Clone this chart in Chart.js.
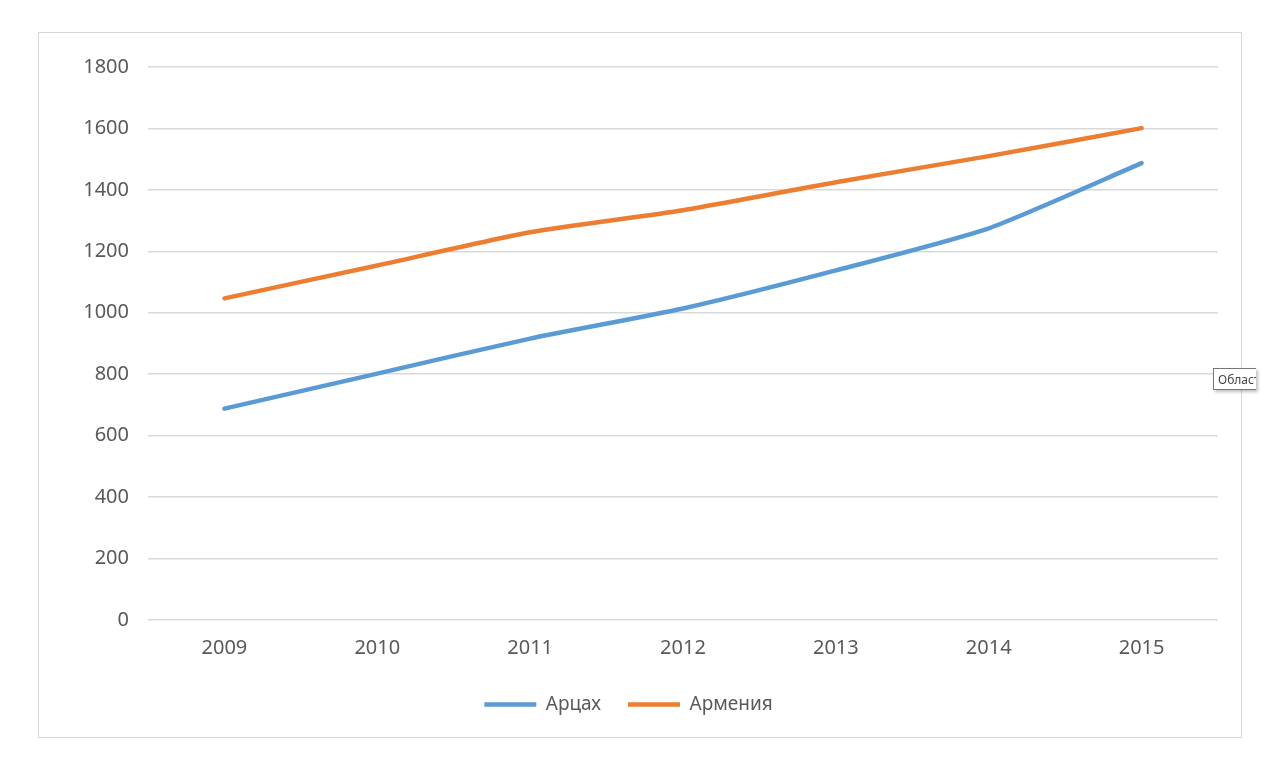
<!DOCTYPE html>
<html>
<head>
<meta charset="utf-8">
<script src="https://cdn.jsdelivr.net/npm/chart.js@4"></script>
<style>
  body { margin: 0; background: #fff; width: 1280px; height: 768px; position: relative; overflow: hidden; }
  #box { position: absolute; left: 38px; top: 32px; width: 1202px; height: 704px; border: 1px solid #d9d9d9; }
  #tip { position: absolute; left: 1213px; top: 368px; width: 43px; height: 22px; overflow: hidden;
         border: 1px solid #767676; border-right: none; background: #fff; box-shadow: 2px 2px 3px rgba(0,0,0,0.25);
         font: 12px "Noto Sans", sans-serif; color: #444; line-height: 21px; padding-left: 4px; box-sizing: border-box; white-space: nowrap; }
</style>
</head>
<body>
<div id="box"><canvas id="myChart"></canvas></div>
<div id="tip">Область</div>
<script>
  var years = ["2009", "2010", "2011", "2012", "2013", "2014", "2015"];
  var artsakh = [688, 802, 916, 1014, 1138, 1275, 1487];
  var armenia = [1047, 1154, 1262, 1334, 1425, 1510, 1601];

  var tickFont = { family: "'Noto Sans', sans-serif", size: 20 };

  var ctx = document.getElementById("myChart");
  var myChart = new Chart(ctx, {
    type: "line",
    data: {
      labels: years,
      datasets: [
        {
          label: "Арцах",
          data: artsakh,
          borderColor: "#5b9bd5",
          backgroundColor: "#5b9bd5",
          borderWidth: 4.5,
          pointRadius: 0,
          tension: 0.2,
          borderCapStyle: "round"
        },
        {
          label: "Армения",
          data: armenia,
          borderColor: "#ed7d31",
          backgroundColor: "#ed7d31",
          borderWidth: 4.5,
          pointRadius: 0,
          tension: 0.2,
          borderCapStyle: "round"
        }
      ]
    },
    options: {
      responsive: true,
      maintainAspectRatio: false,
      animation: false,
      layout: { padding: { left: 0, right: 23, top: 34, bottom: 13 } },
      plugins: {
        tooltip: { enabled: false },
        legend: {
          position: "bottom",
          labels: {
            usePointStyle: true,
            pointStyle: "line",
            pointStyleWidth: 52,
            boxHeight: 5,
            padding: 27,
            color: "#595959",
            font: { family: "'Noto Sans', sans-serif", size: 19 }
          }
        }
      },
      scales: {
        x: {
          offset: true,
          grid: { display: false },
          border: { display: false },
          ticks: { color: "#595959", padding: 8, font: tickFont }
        },
        y: {
          min: 0,
          max: 1800,
          afterFit: function (scale) { scale.width = 109; },
          grid: { color: "#d9d9d9", lineWidth: 1.5, drawTicks: false },
          border: { display: false },
          ticks: {
            stepSize: 200,
            color: "#595959",
            padding: 19,
            font: tickFont,
            callback: function (v) { return String(v); }
          }
        }
      }
    }
  });
</script>
</body>
</html>
